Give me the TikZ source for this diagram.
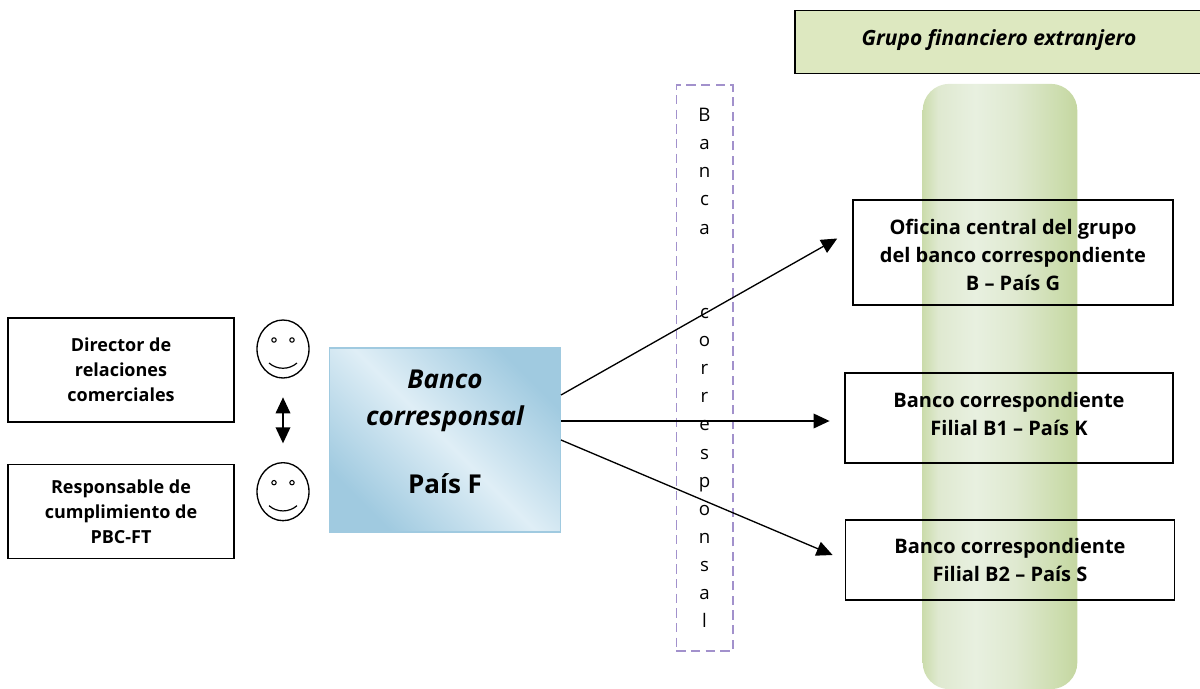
\documentclass[tikz,border=0pt]{standalone}
\usepackage{fontspec}
\setmainfont{Open Sans}
\usetikzlibrary{arrows.meta, positioning, shapes.geometric}
\definecolor{pilla}{HTML}{E8F0E0}
\definecolor{pillb}{HTML}{CBDCAC}
\definecolor{pillc}{HTML}{DFE9D0}
\definecolor{pilld}{HTML}{C4D6A0}
\definecolor{topgreen}{HTML}{DDE8C0}
\definecolor{dashpurple}{HTML}{A291CC}
\definecolor{bluedark}{HTML}{A0CAE0}
\definecolor{bluelight}{HTML}{DFEEF6}
\pgfdeclarehorizontalshading{pillshade}{100bp}{color(0bp)=(pillb); color(25bp)=(pillb); color(30bp)=(pillc); color(42bp)=(pilla); color(55bp)=(pillc); color(70bp)=(pillb); color(75bp)=(pilld); color(100bp)=(pilld)}

\begin{document}
\begin{tikzpicture}[x=0.75pt,y=-0.75pt,>={Triangle[length=12pt,width=11pt]},
  line width=1pt,
  box node/.style={draw=black,line width=1.1pt,align=center,font=\fontsize{15}{21}\selectfont\bfseries},
  person node/.style={box node,minimum width=169.5pt,font=\fontsize{13.5}{18.75}\selectfont\bfseries},
  face node/.style={draw,ellipse,minimum width=39pt,minimum height=43.5pt,inner sep=0pt}]
  \useasboundingbox (0,0) rectangle (1200,689);
  \node[shade,shading=pillshade,rounded corners=20pt,minimum width=116pt,minimum height=454pt] (pill) at (1000,386.5) {};
  \node[draw=black,line width=1.1pt,fill=topgreen,minimum width=306pt,minimum height=47pt,align=center,
    font=\fontsize{15.7}{13}\selectfont\bfseries\itshape] (grupo) at (999,42) {Grupo financiero extranjero\\[-6pt]};

  \node[person node,minimum height=78pt] (director) at (121,370) {Director de\\relaciones\\comerciales};
  \node[person node,minimum height=70.5pt] (responsable) [below of=director,node distance=106pt] {Responsable de\\cumplimiento de\\PBC-FT};
  \node[face node] (faceA) at (283,349) {};
  \node[face node] (faceB) [below of=faceA,node distance=107pt] {};

  % eyes and mouths
  \foreach \f in {faceA,faceB} {
    \draw[line width=0.8pt] ([shift={(-9,-9)}]\f.center) circle (2.2);
    \draw[line width=0.8pt] ([shift={(9,-9)}]\f.center) circle (2.2);
    \draw[line width=0.9pt] ([shift={(-14,14)}]\f.center) .. controls ([shift={(-6,21)}]\f.center) and ([shift={(6,21)}]\f.center) .. ([shift={(14,14)}]\f.center);
  }

  \node[shade,draw=bluedark,top color=bluedark,bottom color=bluedark,middle color=bluelight,shading angle=-45,minimum width=173pt,minimum height=138pt,
    align=center,font=\fontsize{19.5}{27.75}\selectfont\bfseries] (banco) at (445,440)
    {\itshape Banco\\\itshape corresponsal\\[23pt]País F\\[-15.75pt]};

  \node[draw=dashpurple,dash pattern=on 7pt off 4pt,line width=1pt,minimum width=42.5pt,minimum height=424.5pt,inner sep=0pt,align=center,
    font=\fontsize{14}{21.1}\selectfont] (banca) at (704.5,368)
    {B\\a\\n\\c\\a\\\mbox{}\\\mbox{}\\c\\o\\r\\r\\e\\s\\p\\o\\n\\s\\a\\l};

  \node[box node,minimum width=240pt,minimum height=78.5pt] (oficina) at (1013,252.5) {\rule{0pt}{15pt}Oficina central del grupo\\del banco correspondiente\\B -- País G};
  \node[box node,minimum width=246pt,minimum height=67.5pt] (filialA) at (1009,418) {Banco correspondiente\\Filial B1 -- País K\\[-15pt]};
  \node[box node,minimum width=247pt,minimum height=60pt] (filialB) at (1010,560) {Banco correspondiente\\Filial B2 -- País S};

  \draw[<->,shorten >=14pt,shorten <=14pt] (faceA) -- (faceB);
  \draw[->] ([yshift=33.75pt]banco.east) -- ([shift={(-15,-14)}]oficina.west);
  \draw[->] ([yshift=14.25pt]banco.east) -- ([xshift=-11pt,yshift=-2.25pt]filialA.west);
  \draw[->] (banco.east) -- ([shift={(-12,-5)}]filialB.west);
\end{tikzpicture}
\end{document}
